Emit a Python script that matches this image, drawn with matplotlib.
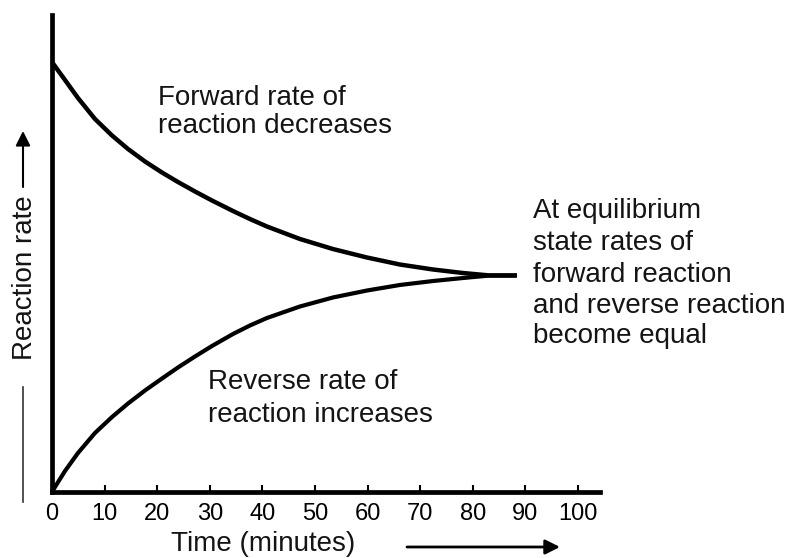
import matplotlib
matplotlib.use("Agg")
import matplotlib.pyplot as plt
from matplotlib.lines import Line2D

# ---- data ----
time_forward = [0, 0.95, 2.47, 4.94, 8.17, 11.41, 14.45, 17.68, 20.91, 23.95, 27.19, 30.42,
                34.41, 37.64, 40.87, 47.15, 53.42, 59.89, 66.16, 72.43, 78.14, 83.27, 88.40]
rate_forward = [90.15, 88.68, 86.37, 82.60, 78.20, 74.74, 71.91, 69.29, 66.98, 64.99, 63.00, 61.11,
                58.91, 57.23, 55.66, 53.04, 50.94, 49.16, 47.69, 46.65, 45.91, 45.39, 45.39]
time_reverse = [0, 0.57, 2.47, 4.94, 8.17, 11.41, 14.45, 17.68, 20.91, 23.95, 27.19, 30.42,
                34.41, 37.64, 40.87, 47.15, 53.42, 59.89, 66.16, 72.43, 78.14, 83.27, 88.40]
rate_reverse = [0, 1.05, 4.40, 8.18, 12.37, 15.72, 18.55, 21.28, 23.79, 26.10, 28.41, 30.61,
                33.12, 34.91, 36.48, 38.89, 40.78, 42.24, 43.40, 44.23, 44.86, 45.39, 45.39]
x_ticks = [0, 10, 20, 30, 40, 50, 60, 70, 80, 90, 100]

forward_label = ["Forward rate of", "reaction decreases"]
reverse_label = ["Reverse rate of", "reaction increases"]
equilibrium_label = ["At equilibrium", "state rates of", "forward reaction",
                     "and reverse reaction", "become equal"]

plt.rcParams["font.family"] = ["Liberation Sans", "DejaVu Sans"]

W, H = 795, 558
fig = plt.figure(figsize=(W / 100, H / 100), dpi=100)
ax = fig.add_axes([52 / W, 66 / H, 548 / W, 477 / H])

ax.plot(time_forward, rate_forward, color="black", lw=3.2,
        solid_joinstyle="round", solid_capstyle="butt", clip_on=False, zorder=3)
ax.plot(time_reverse, rate_reverse, color="black", lw=3.0,
        solid_joinstyle="round", solid_capstyle="butt", clip_on=False, zorder=3)

ax.set_xlim(0, 104.2)
ax.set_ylim(0, 100)
for s in ("top", "right"):
    ax.spines[s].set_visible(False)
for s in ("left", "bottom"):
    ax.spines[s].set_linewidth(3.4)
    ax.spines[s].set_color("black")
ax.set_xticks(x_ticks)
ax.set_xticklabels([str(t) for t in x_ticks])
ax.tick_params(axis="x", direction="in", length=5, width=1.5, pad=8,
               labelsize=17, colors="black")
ax.set_yticks([])


def fpix(x, y):
    return x / W, 1 - y / H


def put(lines, x, baselines):
    for line, y in zip(lines, baselines):
        fig.text(*fpix(x, y), line, fontsize=20, ha="left", va="baseline",
                 color="#141414")


put(forward_label, 158, [105, 133])
put(reverse_label, 208, [389, 422])
put(equilibrium_label, 533, [218, 250, 282, 313, 343])

# y axis label with arrow
fig.text(*fpix(25, 278), "Reaction rate", rotation=90, fontsize=20,
         ha="center", va="center", color="#141414")
ax.annotate("", xy=(23, H - 131), xytext=(23, H - 187), xycoords="figure pixels",
            textcoords="figure pixels",
            arrowprops=dict(arrowstyle="-|>", lw=1.5, color="black",
                            mutation_scale=22, shrinkA=0, shrinkB=0))
fig.add_artist(Line2D([23 / W, 23 / W], [1 - 387 / H, 1 - 502 / H],
                      transform=fig.transFigure, lw=1.2, color="#333333"))

# x axis label with arrow
fig.text(*fpix(263, 551), "Time (minutes)", fontsize=20, ha="center",
         va="baseline", color="#141414")
ax.annotate("", xy=(560, H - 547), xytext=(407, H - 547), xycoords="figure pixels",
            textcoords="figure pixels",
            arrowprops=dict(arrowstyle="-|>", lw=2.0, color="black",
                            mutation_scale=22, shrinkA=0, shrinkB=0))

fig.savefig("out.png", dpi=100)
